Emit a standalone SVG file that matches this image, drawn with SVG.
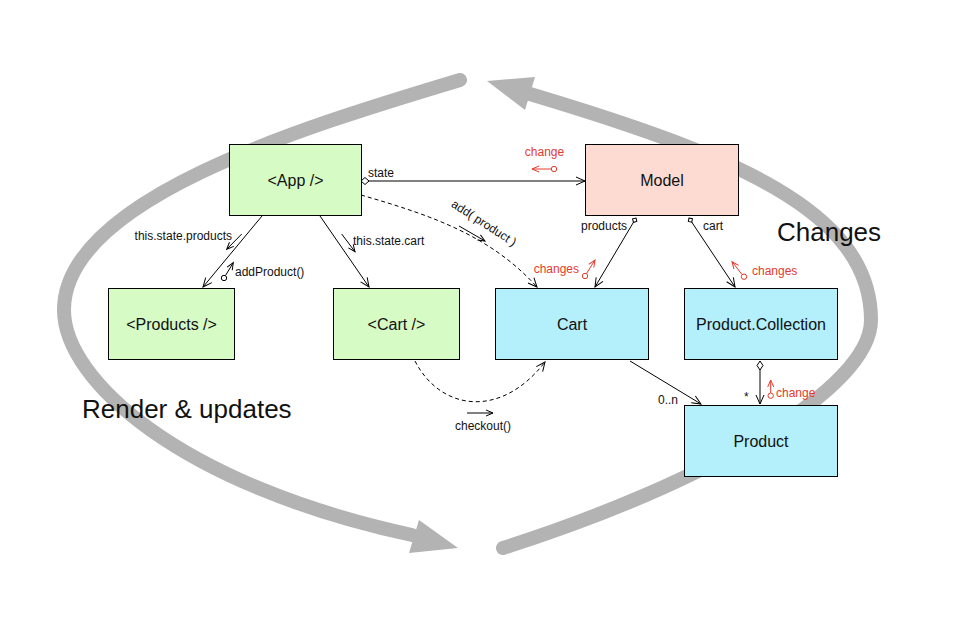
<svg xmlns="http://www.w3.org/2000/svg" width="959" height="621" viewBox="0 0 959 621">
<style>
.box{stroke:#000;stroke-width:1}
.g{fill:#d7fbc5}
.p{fill:#fddbd3}
.b{fill:#b4effc}
.lbl{font-family:"Liberation Sans",Arial,sans-serif;font-size:16px;fill:#111;text-anchor:middle}
.sm{font-family:"Liberation Sans",Arial,sans-serif;font-size:12px;fill:#111}
.red{fill:#e53a2c}
.big{font-family:"Liberation Sans",Arial,sans-serif;font-size:26px;fill:#111}
.ln{stroke:#000;stroke-width:1;fill:none}
.rl{stroke:#e53a2c;stroke-width:1;fill:none}
.arc{stroke:#b3b3b3;stroke-width:14;fill:none;stroke-linecap:round}
</style>
<defs>
<marker id="ah" markerUnits="userSpaceOnUse" markerWidth="12" markerHeight="10" refX="9" refY="4" orient="auto" overflow="visible">
<path d="M0,0 L9,4 L0,8" fill="none" stroke="#000" stroke-width="1"/>
</marker>
<marker id="ahs" markerUnits="userSpaceOnUse" markerWidth="10" markerHeight="8" refX="7" refY="3" orient="auto" overflow="visible">
<path d="M0,0 L7,3 L0,6" fill="none" stroke="#000" stroke-width="1"/>
</marker>
<marker id="ahr" markerUnits="userSpaceOnUse" markerWidth="10" markerHeight="8" refX="7" refY="3" orient="auto" overflow="visible">
<path d="M0,0 L7,3 L0,6" fill="none" stroke="#e53a2c" stroke-width="1"/>
</marker>
<marker id="dia" markerUnits="userSpaceOnUse" markerWidth="12" markerHeight="8" refX="0" refY="3.5" orient="auto" overflow="visible">
<path d="M0,3.5 L4,0 L8,3.5 L4,7 Z" fill="#fff" stroke="#000" stroke-width="1"/>
</marker>
<marker id="diaV" markerUnits="userSpaceOnUse" markerWidth="12" markerHeight="8" refX="0" refY="3" orient="auto" overflow="visible">
<path d="M0,3 L4.5,0 L9,3 L4.5,6 Z" fill="#fff" stroke="#000" stroke-width="1"/>
</marker>
<marker id="dt" markerUnits="userSpaceOnUse" markerWidth="8" markerHeight="8" refX="0" refY="2.5" orient="auto" overflow="visible">
<path d="M0,2.5 L2.5,0 L5,2.5 L2.5,5 Z" fill="#fff" stroke="#000" stroke-width="1"/>
</marker>
</defs>

<g id="cycle">
<path class="arc" d="M460,80 C300,128 64,200 64,310 C64,380 180,485 412,535"/>
<polygon points="458,548 419,520 409,553" fill="#b3b3b3"/>
<path class="arc" d="M503,548 C703,484 871,390 871,320 C871,210 730,154 530,94"/>
<polygon points="487,81 535,77 525,110" fill="#b3b3b3"/>
</g>

<g id="connectors">
<path class="ln" d="M361,181 L585,181" marker-start="url(#dia)" marker-end="url(#ah)"/>
<path class="ln" d="M262,216 L203,287" marker-end="url(#ah)"/>
<path class="ln" d="M320,216 L369,287" marker-end="url(#ah)"/>
<path class="ln" d="M361,195 C430,215 490,235 537,287" stroke-dasharray="4,3" marker-end="url(#ah)"/>
<path class="ln" d="M636,218 L595,287" marker-start="url(#dt)" marker-end="url(#ah)"/>
<path class="ln" d="M689,218 L735,287" marker-start="url(#dt)" marker-end="url(#ah)"/>
<path class="ln" d="M415,361 C440,410 500,420 545,362" stroke-dasharray="4,3" marker-end="url(#ah)"/>
<path class="ln" d="M630,361 L701,404" marker-end="url(#ah)"/>
<path class="ln" d="M760,361 L760,404" marker-start="url(#diaV)" marker-end="url(#ah)"/>
</g>

<g id="message-arrows">
<path class="rl" d="M551,169 L532,169" marker-end="url(#ahr)"/>
<circle cx="554" cy="169" r="2.7" fill="#fff" stroke="#e53a2c"/>
<path class="ln" d="M241.7,234 L226.7,249.3" marker-end="url(#ahs)"/>
<path class="ln" d="M225.5,275.5 L233.3,262.7" marker-end="url(#ahs)"/>
<circle cx="224" cy="278" r="2.7" fill="#fff" stroke="#000"/>
<path class="ln" d="M341.7,234 L355,251.7" marker-end="url(#ahs)"/>
<path class="ln" d="M459,226 L485,241" marker-end="url(#ahs)"/>
<path class="rl" d="M586.5,273.5 L595,260" marker-end="url(#ahr)"/>
<circle cx="585" cy="276" r="2.7" fill="#fff" stroke="#e53a2c"/>
<path class="rl" d="M742,274.5 L732,261.7" marker-end="url(#ahr)"/>
<circle cx="744" cy="276.7" r="2.7" fill="#fff" stroke="#e53a2c"/>
<path class="ln" d="M467,413 L493,413" marker-end="url(#ahs)"/>
<path class="rl" d="M770.7,393 L770.7,380" marker-end="url(#ahr)"/>
<circle cx="770.7" cy="395.7" r="2.7" fill="#fff" stroke="#e53a2c"/>
</g>

<g id="App"><rect class="box g" x="229.5" y="144.5" width="132" height="71"/><text class="lbl" x="295.5" y="186">&lt;App /&gt;</text></g>
<g id="Model"><rect class="box p" x="585.5" y="144.5" width="153" height="71"/><text class="lbl" x="662" y="186">Model</text></g>
<g id="Products"><rect class="box g" x="108.5" y="288.5" width="126" height="71"/><text class="lbl" x="171.5" y="330">&lt;Products /&gt;</text></g>
<g id="CartComponent"><rect class="box g" x="333.5" y="288.5" width="126" height="71"/><text class="lbl" x="396.5" y="330">&lt;Cart /&gt;</text></g>
<g id="Cart"><rect class="box b" x="495.5" y="288.5" width="153" height="71"/><text class="lbl" x="572" y="330">Cart</text></g>
<g id="ProductCollection"><rect class="box b" x="684.5" y="288.5" width="153" height="71"/><text class="lbl" x="761" y="330">Product.Collection</text></g>
<g id="Product"><rect class="box b" x="684.5" y="405.5" width="153" height="71"/><text class="lbl" x="761" y="447">Product</text></g>

<g id="labels">
<text class="sm" x="368" y="177">state</text>
<text class="sm red" x="544.5" y="156" text-anchor="middle">change</text>
<text class="sm" transform="translate(484,223) rotate(33)" x="0" y="4" text-anchor="middle">add( product )</text>
<text class="sm" x="232" y="240" text-anchor="end">this.state.products</text>
<text class="sm" x="235" y="276">addProduct()</text>
<text class="sm" x="353" y="245">this.state.cart</text>
<text class="sm" x="627" y="230" text-anchor="end">products</text>
<text class="sm" x="703" y="230">cart</text>
<text class="sm red" x="579" y="273" text-anchor="end">changes</text>
<text class="sm red" x="752" y="275">changes</text>
<text class="sm" x="455" y="430">checkout()</text>
<text class="sm" x="658" y="404">0..n</text>
<text class="sm" x="744" y="401">*</text>
<text class="sm red" x="776" y="397">change</text>
<text class="big" x="82" y="418">Render &amp; updates</text>
<text class="big" x="777" y="241">Changes</text>
</g>
</svg>
